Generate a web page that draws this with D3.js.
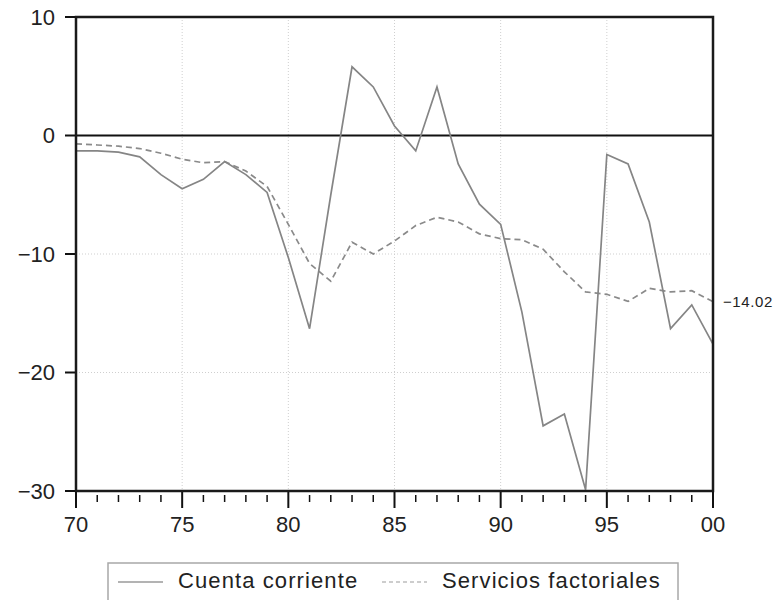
<!DOCTYPE html>
<html>
<head>
<meta charset="utf-8">
<script src="https://cdnjs.cloudflare.com/ajax/libs/d3/7.8.5/d3.min.js"></script>
<style>
  body { margin: 0; background: #fff; }
  svg { display: block; font-family: "Liberation Sans", Arial, sans-serif; }
</style>
</head>
<body>
<div id="chart"></div>
<script>
// data (percent)
var years = d3.range(1970, 2001);
var cuenta = [-1.3, -1.3, -1.4, -1.8, -3.3, -4.5, -3.7, -2.2, -3.3, -4.8,
              -10.3, -16.3, -5.0, 5.8, 4.1, 0.8, -1.3, 4.1, -2.4, -5.8,
              -7.5, -14.9, -24.5, -23.5, -29.9, -1.6, -2.4, -7.3, -16.3, -14.3, -17.6];
var servicios = [-0.7, -0.8, -0.9, -1.1, -1.5, -2.0, -2.3, -2.2, -3.0, -4.3,
                 -7.5, -10.8, -12.3, -9.0, -10.0, -8.9, -7.6, -6.9, -7.3, -8.3,
                 -8.7, -8.8, -9.6, -11.5, -13.2, -13.4, -14.0, -12.9, -13.2, -13.1, -14.02];
var yTicks = [10, 0, -10, -20, -30];
var xMajor = [1970, 1975, 1980, 1985, 1990, 1995, 2000];
var seriesNames = ["Cuenta corriente", "Servicios factoriales"];

var width = 781, height = 600;
var margin = {top: 17, right: 68, bottom: 109, left: 76};
var w = width - margin.left - margin.right,
    h = height - margin.top - margin.bottom;

var x = d3.scaleLinear().domain([1970, 2000]).range([0, w]);
var y = d3.scaleLinear().domain([-30, 10]).range([h, 0]);

function minus(v) { return v < 0 ? "\u2212" + Math.abs(v) : "" + v; }
function isMajor(d) { return xMajor.indexOf(d) >= 0; }

var svg = d3.select("#chart").append("svg")
    .attr("width", width)
    .attr("height", height)
  .append("g")
    .attr("transform", "translate(" + margin.left + "," + margin.top + ")");

// grid
svg.append("g").selectAll("line")
    .data(xMajor.slice(1, -1))
  .enter().append("line")
    .attr("x1", x).attr("x2", x)
    .attr("y1", 0).attr("y2", h)
    .attr("stroke", "#cfcfcf")
    .attr("stroke-dasharray", "1,2");

svg.append("g").selectAll("line")
    .data([-10, -20])
  .enter().append("line")
    .attr("x1", 0).attr("x2", w)
    .attr("y1", y).attr("y2", y)
    .attr("stroke", "#cfcfcf")
    .attr("stroke-dasharray", "1,2");

// zero line
svg.append("line")
    .attr("x1", 0).attr("x2", w)
    .attr("y1", y(0)).attr("y2", y(0))
    .attr("stroke", "#111")
    .attr("stroke-width", 2);

// lines
var line = d3.line()
    .x(function(d, i) { return x(years[i]); })
    .y(function(d) { return y(d); });

svg.append("path")
    .attr("d", line(servicios))
    .attr("fill", "none")
    .attr("stroke", "#8a8a8a")
    .attr("stroke-width", 1.7)
    .attr("stroke-dasharray", "6,4");

svg.append("path")
    .attr("d", line(cuenta))
    .attr("fill", "none")
    .attr("stroke", "#858585")
    .attr("stroke-width", 1.7);

// y ticks and labels
var gy = svg.append("g");
gy.selectAll("line")
    .data(yTicks)
  .enter().append("line")
    .attr("x1", -11).attr("x2", 0)
    .attr("y1", y).attr("y2", y)
    .attr("stroke", "#111")
    .attr("stroke-width", 2);
gy.selectAll("text")
    .data(yTicks)
  .enter().append("text")
    .attr("x", -21)
    .attr("y", y)
    .attr("dy", "0.36em")
    .attr("text-anchor", "end")
    .attr("font-size", 22)
    .attr("fill", "#222")
    .text(minus);

// x ticks and labels
var gx = svg.append("g").attr("transform", "translate(0," + h + ")");
gx.selectAll("line")
    .data(years)
  .enter().append("line")
    .attr("x1", x).attr("x2", x)
    .attr("y1", function(d) { return isMajor(d) ? 0 : 4; })
    .attr("y2", function(d) { return isMajor(d) ? 17 : 11; })
    .attr("stroke", "#111")
    .attr("stroke-width", function(d) { return isMajor(d) ? 2 : 1.5; });
gx.selectAll("text")
    .data(xMajor)
  .enter().append("text")
    .attr("x", x)
    .attr("y", 41)
    .attr("text-anchor", "middle")
    .attr("font-size", 22)
    .attr("fill", "#222")
    .text(function(d) { return d3.format("02d")(d % 100); });

// frame
svg.append("rect")
    .attr("width", w).attr("height", h)
    .attr("fill", "none")
    .attr("stroke", "#1a1a1a")
    .attr("stroke-width", 2.5);

// end value label
var last = servicios[servicios.length - 1];
svg.append("text")
    .attr("x", w + 10)
    .attr("y", y(last))
    .attr("dy", "0.35em")
    .attr("font-size", 15)
    .attr("letter-spacing", "0.6px")
    .attr("fill", "#222")
    .text(d3.format(".2f")(last).replace("-", "\u2212"));

// legend
var lg = svg.append("g").attr("transform", "translate(" + (108 - margin.left) + "," + (563 - margin.top) + ")");
lg.append("rect")
    .attr("width", 570).attr("height", 50)
    .attr("fill", "#fff")
    .attr("stroke", "#a8a8a8")
    .attr("stroke-width", 1.5);

var items = [{x: 10, dash: null, color: "#9a9a9a"}, {x: 274, dash: "4,3", color: "#bdbdbd"}];
items.forEach(function(it, i) {
  lg.append("line")
    .attr("x1", it.x).attr("x2", it.x + 45)
    .attr("y1", 19).attr("y2", 19)
    .attr("stroke", it.color)
    .attr("stroke-width", 1.5)
    .attr("stroke-dasharray", it.dash);
  lg.append("text")
    .attr("x", it.x + 60)
    .attr("y", 25)
    .attr("font-size", 22)
    .attr("fill", "#222")
    .attr("letter-spacing", "1.1px")
    .text(seriesNames[i]);
});
</script>
</body>
</html>
